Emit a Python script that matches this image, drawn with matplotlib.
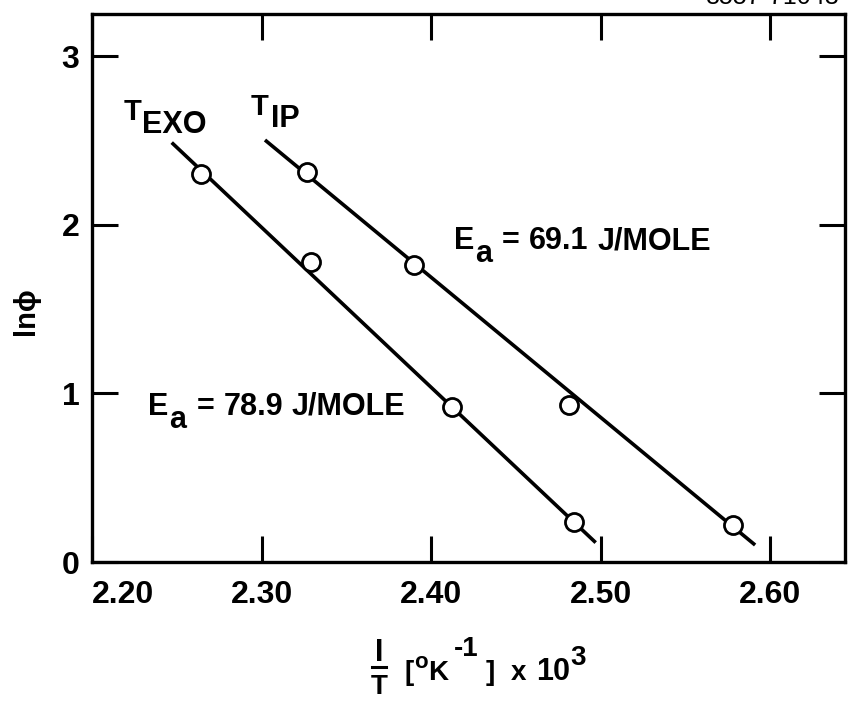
import numpy as np
import matplotlib
matplotlib.use("Agg")
import matplotlib.pyplot as plt
from matplotlib import font_manager

# ---- data -------------------------------------------------------------
R_GAS = 8.314  # J / (mol K)

exo_x = [2.264, 2.329, 2.412, 2.484]     # 1/T x 10^3  (T_EXO)
exo_y = [2.30, 1.78, 0.92, 0.24]         # ln(phi)
exo_ea = 78.9                            # activation energy label value
exo_span = [2.247, 2.497]                # drawn extent of the Arrhenius line

ip_x = [2.327, 2.390, 2.481, 2.578]      # 1/T x 10^3  (T_IP)
ip_y = [2.31, 1.76, 0.93, 0.22]
ip_ea = 69.1
ip_span = [2.302, 2.591]

x_ticks = [2.20, 2.30, 2.40, 2.50, 2.60]
x_tick_labels = ["2.20", "2.30", "2.40", "2.50", "2.60"]
y_ticks = [0, 1, 2, 3]
y_tick_labels = ["0", "1", "2", "3"]

# ---- style --------------------------------------------------------------
W, H, DPI = 850, 701, 100
FAM = ["Liberation Sans", "DejaVu Sans"]
installed = {f.name for f in font_manager.fontManager.ttflist}
NARROW = ["Liberation Sans Narrow"] + FAM if "Liberation Sans Narrow" in installed else FAM

plt.rcParams["font.family"] = FAM
plt.rcParams["font.weight"] = "bold"

fig = plt.figure(figsize=(W / DPI, H / DPI), dpi=DPI)
ax = fig.add_axes([92 / W, 1 - 562 / H, (845 - 92) / W, (562 - 14) / H])
ax.set_xlim(2.2019, 2.644)
ax.set_ylim(0.0, 3.25)

for sp in ax.spines.values():
    sp.set_linewidth(2.4)

ax.set_xticks(x_ticks)
ax.set_xticklabels(x_tick_labels)
ax.set_yticks(y_ticks)
ax.set_yticklabels(y_tick_labels)
ax.tick_params(direction="in", top=True, right=True, length=19, width=2.2,
               labelsize=23)
ax.tick_params(axis="x", pad=13)
ax.tick_params(axis="y", pad=9)
for lab in ax.get_xticklabels():
    lab.set_fontweight("bold")
ax.get_xticklabels()[0].set_horizontalalignment("left")
for lab in ax.get_yticklabels():
    lab.set_fontweight("bold")


def arrhenius_line(xs, ys, ea, span):
    """Line of slope -Ea/R through the data (robust median intercept)."""
    slope = -ea / R_GAS
    icpt = np.median(np.asarray(ys) + ea / R_GAS * np.asarray(xs))
    xx = np.asarray(span)
    return xx, icpt + slope * xx


for xs, ys, ea, span in [(exo_x, exo_y, exo_ea, exo_span),
                         (ip_x, ip_y, ip_ea, ip_span)]:
    lx, ly = arrhenius_line(xs, ys, ea, span)
    ax.plot(lx, ly, color="black", lw=2.6, solid_capstyle="butt", zorder=2)
    ax.plot(xs, ys, linestyle="none", marker="o", ms=13, mfc="white",
            mec="black", mew=2.0, zorder=3)

renderer = fig.canvas.get_renderer()


def text_runs(xy, xycoords, runs, **kw):
    """Draw consecutive pieces of text: (text, raise_px, size_pt, gap_px)."""
    if xycoords == "data":
        x0 = ax.transData.transform(xy)[0]
    else:
        x0 = xy[0]
    dx = 0.0
    for s, rise, size, gap in runs:
        dx += gap
        t = ax.annotate(s, xy=xy, xycoords=xycoords, xytext=(dx, rise),
                        textcoords="offset pixels", fontsize=size,
                        ha="left", va="baseline", fontweight="bold",
                        annotation_clip=False, **kw)
        bb = t.get_window_extent(renderer=renderer)
        dx = bb.x1 - x0


# curve labels
text_runs((2.2184, 2.62), "data", [("T", 0, 21, 0), ("EXO", -13, 22, 1)])
text_runs((2.2935, 2.651), "data", [("T", 0, 21, 0), ("IP", -12, 22, 3)])

# activation energies
text_runs((2.4133, 1.856), "data",
          [("E", 0, 22, 0), ("a", -13, 22, 1), ("=", 0, 22, 10),
           (f"{ip_ea:.1f}", 0, 22, 9), ("J/MOLE", 0, 22, 9)])
text_runs((2.2331, 0.872), "data",
          [("E", 0, 22, 0), ("a", -13, 22, 1), ("=", 0, 22, 10),
           (f"{exo_ea:.1f}", 0, 22, 9), ("J/MOLE", 0, 22, 9)])

# y-axis label
ax.annotate("ln\u03d5", xy=(26, H - 311), xycoords="figure pixels",
            rotation=90, ha="center", va="center", fontsize=21,
            fontweight="bold", annotation_clip=False)

# x-axis label: fraction 1/T followed by units
ax.annotate("I", xy=(379, H - 661), xycoords="figure pixels", ha="center",
            va="baseline", fontsize=22, fontweight="bold", family=NARROW,
            annotation_clip=False)
ax.annotate("T", xy=(379, H - 694), xycoords="figure pixels", ha="center",
            va="baseline", fontsize=20, fontweight="bold", family=NARROW,
            annotation_clip=False)
ax.plot([372 / W, 386 / W], [1 - 667 / H, 1 - 667 / H], color="black",
        lw=2.2, transform=fig.transFigure, clip_on=False)
text_runs((405, H - 680), "figure pixels",
          [("[", 0, 20, 0), ("o", 12, 16, 0), ("K", 0, 20, 0),
           ("-1", 24, 20, 6), ("]", 0, 20, 7), ("x", 0, 20, 16),
           ("10", 0, 22, 10), ("3", 15, 20, 0)])

# drawing number along the top edge
ax.annotate("8557-71043", xy=(840, H - 4), xycoords="figure pixels",
            ha="right", va="baseline", fontsize=18, fontweight="normal",
            annotation_clip=False)

fig.savefig("out.png", dpi=DPI, facecolor="white")
